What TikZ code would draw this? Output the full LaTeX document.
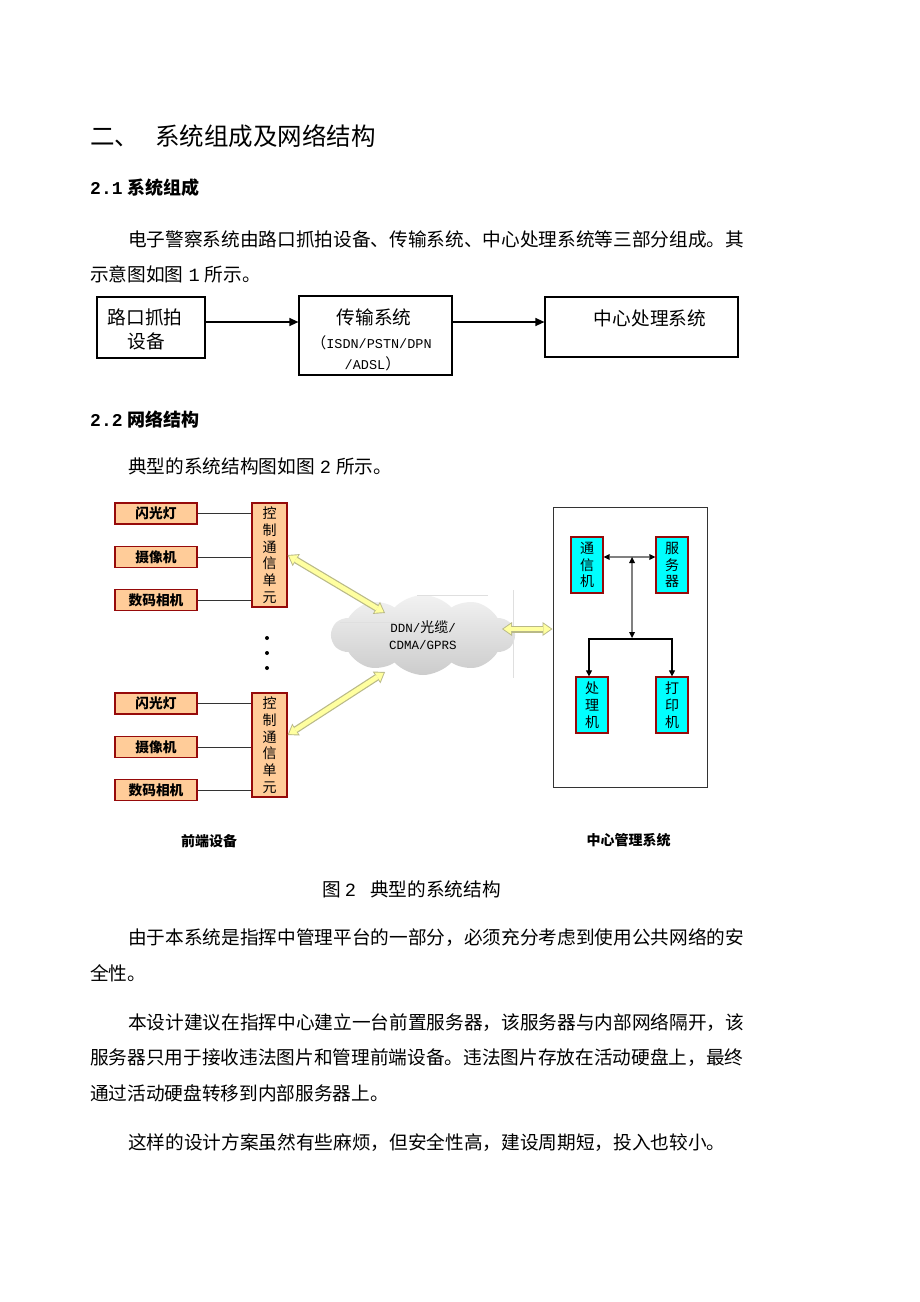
\documentclass[tikz,border=0pt]{standalone}
\usepackage{fontspec}
\setmainfont{Noto Sans CJK SC}
\newfontfamily\mono{Liberation Mono}
\usetikzlibrary{arrows.meta,shapes.symbols}
\definecolor{devfill}{RGB}{255,204,153}
\definecolor{devline}{RGB}{150,10,10}
\definecolor{pcfill}{RGB}{0,255,255}
\definecolor{linkfill}{RGB}{255,255,160}
\definecolor{linkline}{RGB}{185,185,135}

\begin{document}
\begin{tikzpicture}[
  x=1pt, y=-1pt,
  txt/.style={anchor=west, inner sep=0pt, font=\fontsize{18.67}{25}\selectfont},
  ctxt/.style={inner sep=0pt, font=\fontsize{18.67}{25}\selectfont},
  fbox/.style={draw, line width=1.2pt, inner sep=0pt},
  flow/.style={-{Triangle[length=9pt,width=8pt]}, line width=1.3pt},
  dev/.style={
    draw=devline, line width=1.3pt, fill=devfill,
    minimum width=82pt, minimum height=21pt, inner sep=0pt,
    font=\fontsize{13.7}{16}\selectfont\bfseries
  },
  ctl/.style={
    dev, minimum width=35pt, minimum height=104pt,
    align=center, font=\fontsize{14}{16.7}\selectfont
  },
  pc/.style={
    draw=devline, line width=1.3pt, fill=pcfill,
    minimum width=32pt, minimum height=56pt, inner sep=0pt,
    align=center, font=\fontsize{14}{16.7}\selectfont
  },
  wire/.style={line width=0.9pt, black!80},
  linkout/.style={
    line width=7pt, linkline,
    {Triangle[length=10pt,width=14pt,line width=0pt]}-{Triangle[length=10pt,width=14pt,line width=0pt]}
  },
  linkin/.style={
    line width=4.6pt, linkfill, shorten <=1.6pt, shorten >=1.6pt,
    {Triangle[length=7.5pt,width=10.5pt,line width=0pt]}-{Triangle[length=7.5pt,width=10.5pt,line width=0pt]}
  },
  bus/.style={
    line width=2pt, gray,
    {Triangle[length=6pt,width=6pt,color=black,line width=0pt]}-{Triangle[length=6pt,width=6pt,color=black,line width=0pt]}
  },
  tree/.style={line width=1.2pt, -{Triangle[length=6pt,width=6pt]}},
  grouplbl/.style={inner sep=0pt, font=\fontsize{14}{16}\selectfont\bfseries}
]
  \fill[white] (0,0) rectangle (920,1302);
  \useasboundingbox (0,0) rectangle (920,1302);

  \node[txt, font=\fontsize{24.5}{30}\selectfont] (sec) at (90,136) {二、\hspace{16pt}系统组成及网络结构};
  \node[txt, font=\fontsize{18}{22}\selectfont\bfseries] (sub1) at (90,188) {{\mono 2.1}\hspace{5pt}系统组成};
  \node[txt, font=\fontsize{18}{22}\selectfont\bfseries] (sub2) at (90,420) {{\mono 2.2}\hspace{5pt}网络结构};
  \foreach \n/\x/\y/\t in {
    p1a/128/239/{电子警察系统由路口抓拍设备、传输系统、中心处理系统等三部分组成。其},
    p1b/90/274/{示意图如图\hspace{5pt}{\mono 1}\hspace{5pt}所示。},
    p2/128/466/{典型的系统结构图如图\hspace{5pt}{\mono 2}\hspace{5pt}所示。},
    p3a/128/938/{由于本系统是指挥中管理平台的一部分，必须充分考虑到使用公共网络的安},
    p3b/90/973/{全性。},
    p4a/128/1023/{本设计建议在指挥中心建立一台前置服务器，该服务器与内部网络隔开，该},
    p4b/90/1058/{服务器只用于接收违法图片和管理前端设备。违法图片存放在活动硬盘上，最终},
    p4c/90/1093/{通过活动硬盘转移到内部服务器上。},
    p5/128/1143/{这样的设计方案虽然有些麻烦，但安全性高，建设周期短，投入也较小。}
  } {
    \node[txt] (\n) at (\x,\y) {\t};
  }

  \node[fbox, minimum width=108pt, minimum height=61pt] (capture) at (151,327.5) {};
  \node[ctxt] (capt1) at (145,317) {路口抓拍};
  \node[ctxt] (capt2) at (146,341) {设备};
  \node[fbox, minimum width=153pt, minimum height=79pt] (trans) at (375.5,335.5) {};
  \node[ctxt] (transt) at (374,317) {传输系统};
  \node[ctxt, font=\fontsize{15}{18}\selectfont] (transs1) at (371.5,343)
    {（{\mono\fontsize{13.5}{15}\selectfont ISDN/PSTN/DPN}};
  \node[ctxt, font=\fontsize{15}{18}\selectfont] (transs2) at (372.5,364)
    {{\mono\fontsize{13.5}{15}\selectfont /ADSL}）};
  \node[fbox, minimum width=193pt, minimum height=60pt] (ctrsys) at (641.5,327) {};
  \node[ctxt] (ctrt) at (650,318) {中心处理系统};
  \draw[flow] ([yshift=5.5pt]capture.east) -- ([yshift=5.5pt]capture.east -| trans.west);
  \draw[flow] ([yshift=13.5pt]trans.east) -- ([yshift=13.5pt]trans.east -| ctrsys.west);

  \foreach \g/\dy in {1/0,2/190} {
    \node[dev] (flash\g) at (156,513.5+\dy) {闪光灯};
    \node[dev] (cam\g) at (156,557+\dy) {摄像机};
    \node[dev] (dcam\g) at (156,600+\dy) {数码相机};
    \node[ctl] (cu\g) at (269.5,555+\dy) {控\\制\\通\\信\\单\\元};
    \foreach \d in {flash,cam,dcam}
      \draw[wire] (\d\g) -- (\d\g -| cu\g.west);
  }
  \foreach \y in {638,653,668}
    \fill (267,\y) circle (2pt);

  \node[cloud, cloud puffs=10, cloud puff arc=95, aspect=2.2, minimum width=183pt, minimum height=80pt,
    inner sep=0pt, top color=gray!10, bottom color=gray!40,
    align=center, font=\fontsize{14}{16.5}\selectfont] (net) at (423,635)
    {{\mono\fontsize{12.5}{16.5}\selectfont DDN/}光缆{\mono\fontsize{12.5}{16.5}\selectfont /}\\{\mono\fontsize{12.5}{16.5}\selectfont CDMA/GPRS}};
  \draw[gray!25, line width=0.6pt] (340,622) -- (420,622) (417,595) -- (488,595) (513,590) -- (513,678);
  \coordinate (cin1) at (385,613);
  \coordinate (cin2) at (385,672);
  \coordinate (cout) at (502,629);

  \node[draw=black!80, line width=1pt, minimum width=154pt, minimum height=280pt] (mgmt) at (630,647) {};
  \node[pc] (comm) at (587,565) {通\\信\\机};
  \node[pc] (srv) at (672,565) {服\\务\\器};
  \node[pc] (proc) at (592,705) {处\\理\\机};
  \node[pc] (prn) at (672,705) {打\\印\\机};
  \coordinate (hub) at (632,557);
  \coordinate (split) at (632,639);

  \foreach \s in {linkout,linkin} {
    \draw[\s] (cu1.east) -- (cin1);
    \draw[\s] ([yshift=10pt]cu2.east) -- (cin2);
    \draw[\s] (cout) -- ([yshift=18pt]mgmt.west);
  }
  \draw[bus] ([yshift=8pt]comm.east) -- ([yshift=8pt]srv.west);
  \draw[bus, shorten >=1pt] (hub) -- (split);
  \draw[tree] (split) -| ([xshift=-3pt]proc.north);
  \draw[tree] (split) -| (prn.north);

  \node[grouplbl] (front) at (209,841) {前端设备};
  \node[grouplbl] (mgmtlbl) at (628.5,840) {中心管理系统};
  \node[txt] (fig2) at (322,889) {图\hspace{4pt}{\mono 2}\hspace{14pt}典型的系统结构};
\end{tikzpicture}
\end{document}
